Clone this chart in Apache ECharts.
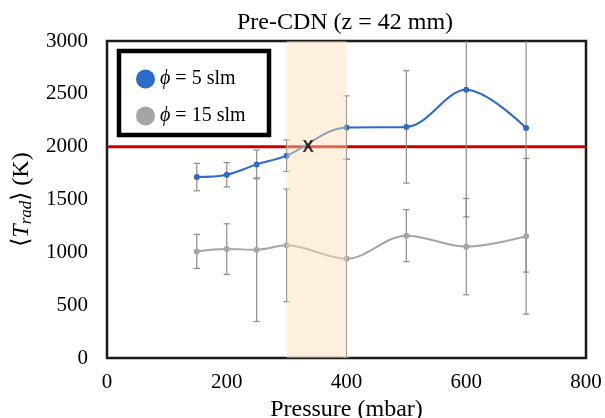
<!DOCTYPE html>
<html><head><meta charset="utf-8">
<script src="https://cdn.jsdelivr.net/npm/echarts@6/dist/echarts.min.js"></script>
<style>html,body{margin:0;padding:0;background:#fff}#c{width:605px;height:418px}</style>
</head><body><div id="c"></div>
<script>
const pressure = [150, 200, 250, 300, 400, 500, 600, 700];
const phi5 = [1712, 1734, 1832, 1915, 2181, 2187, 2538, 2177];
const phi5Err = [130, 115, 136, 149, 300, 532, 1203, 1364];
const phi15 = [1009, 1031, 1025, 1066, 940, 1158, 1054, 1152];
const phi15Err = [161, 239, 680, 533, 940, 247, 456, 737];
const thresholdLine = [[0, 2000], [800, 2000]];
const band = [300, 400];
const crossing = [[336, 2000]];
const name5 = 'ϕ = 5 slm';
const name15 = 'ϕ = 15 slm';

const serif = "'Liberation Serif', 'Times New Roman', serif";

function errorSeries(vals, errs, z) {
  return {
    type: 'custom', clip: true, z: z, silent: true,
    data: pressure.map((p, i) => [p, vals[i] - errs[i], vals[i] + errs[i]]),
    encode: { x: 0, y: [1, 2] },
    renderItem: function (params, api) {
      const x = api.value(0);
      const lo = api.coord([x, api.value(1)]);
      const hi = api.coord([x, api.value(2)]);
      const w = 3.2;
      const st = { stroke: '#8c8c8c', lineWidth: 1.2 };
      return { type: 'group', children: [
        { type: 'line', shape: { x1: lo[0], y1: lo[1], x2: hi[0], y2: hi[1] }, style: st },
        { type: 'line', shape: { x1: lo[0] - w, y1: lo[1], x2: lo[0] + w, y2: lo[1] }, style: st },
        { type: 'line', shape: { x1: hi[0] - w, y1: hi[1], x2: hi[0] + w, y2: hi[1] }, style: st }
      ]};
    }
  };
}

const chart = echarts.init(document.getElementById('c'), null, { renderer: 'canvas' });
chart.setOption({
  animation: false,
  backgroundColor: '#fff',
  title: {
    text: 'Pre-CDN (z = 42 mm)', left: 340, top: 6, textAlign: 'center',
    textStyle: { fontFamily: serif, fontSize: 24, fontWeight: 'normal', color: '#000' }
  },
  grid: { left: 107, right: 19, top: 41, bottom: 60, containLabel: false, outerBoundsMode: 'none',
    show: true, borderColor: '#1a1a1a', borderWidth: 2.5, backgroundColor: '#fff' },
  xAxis: {
    type: 'value', min: 0, max: 800, interval: 200,
    name: 'Pressure (mbar)', nameLocation: 'middle', nameGap: 38,
    nameTextStyle: { fontFamily: serif, fontSize: 24, color: '#000' },
    axisLine: { show: false }, axisTick: { show: false }, splitLine: { show: false },
    axisLabel: { fontFamily: serif, fontSize: 21, color: '#000', margin: 14, formatter: v => String(v) }
  },
  yAxis: {
    type: 'value', min: 0, max: 3000, interval: 500,
    name: '⟨{t|T}{s|rad}⟩ (K)', nameLocation: 'middle', nameGap: 70,
    nameTextStyle: { fontFamily: serif, fontSize: 24, color: '#000',
      rich: {
        t: { fontFamily: serif, fontSize: 24, fontStyle: 'italic', color: '#000' },
        s: { fontFamily: serif, fontSize: 17, fontStyle: 'italic', color: '#000', padding: [9, 0, 0, 0] }
      } },
    axisLine: { show: false }, axisTick: { show: false }, splitLine: { show: false },
    axisLabel: { fontFamily: serif, fontSize: 21, color: '#000', margin: 19, formatter: v => String(v) }
  },
  legend: {
    data: [name5, name15], orient: 'vertical', left: 131, top: 64, z: 20,
    icon: 'circle', itemWidth: 19, itemHeight: 19, itemGap: 17,
    textStyle: { fontFamily: serif, fontSize: 20, color: '#000', lineHeight: 20,
      rich: { p: { fontFamily: serif, fontSize: 20, fontStyle: 'italic', color: '#000' }, r: { fontFamily: serif, fontSize: 20, color: '#000' } } },
    formatter: function (n) { return '{p|ϕ}{r|' + n.slice(1) + '}'; }
  },
  graphic: [{
    type: 'rect', z: 19, shape: { x: 119, y: 51, width: 150, height: 84 },
    style: { fill: '#fff', stroke: '#000', lineWidth: 4.5 }
  }],
  series: [
    {
      name: 'threshold', type: 'line', data: thresholdLine, z: 2, silent: true,
      symbol: 'none', lineStyle: { color: '#c80000', width: 3 }
    },
    errorSeries(phi15, phi15Err, 3),
    errorSeries(phi5, phi5Err, 3),
    {
      name: name15, type: 'line', smooth: 0.35, z: 4,
      data: pressure.map((p, i) => [p, phi15[i]]),
      symbol: 'circle', symbolSize: 6, showSymbol: true,
      itemStyle: { color: '#a5a5a5' }, lineStyle: { color: '#a5a5a5', width: 2 }
    },
    {
      name: name5, type: 'line', smooth: 0.35, z: 4,
      data: pressure.map((p, i) => [p, phi5[i]]),
      symbol: 'circle', symbolSize: 6, showSymbol: true,
      itemStyle: { color: '#2e6bc6' }, lineStyle: { color: '#2e6bc6', width: 2 }
    },
    {
      name: 'band', type: 'custom', z: 10, silent: true, clip: true,
      data: [band],
      encode: { x: [0, 1] },
      renderItem: function (params, api) {
        const a = api.coord([api.value(0), 3000]);
        const b = api.coord([api.value(1), 0]);
        return { type: 'rect', shape: { x: a[0], y: a[1], width: b[0] - a[0], height: b[1] - a[1] },
          style: { fill: 'rgba(250,225,180,0.45)' } };
      }
    },
    {
      name: 'cross', type: 'scatter', z: 11, silent: true, symbolSize: 1,
      itemStyle: { color: 'rgba(0,0,0,0)' },
      data: crossing,
      label: { show: true, position: 'inside', formatter: 'X', color: '#000', offset: [0, 1],
        fontFamily: "'Liberation Sans', Arial, sans-serif", fontSize: 17, fontWeight: 'bold' }
    }
  ]
});
</script></body></html>
